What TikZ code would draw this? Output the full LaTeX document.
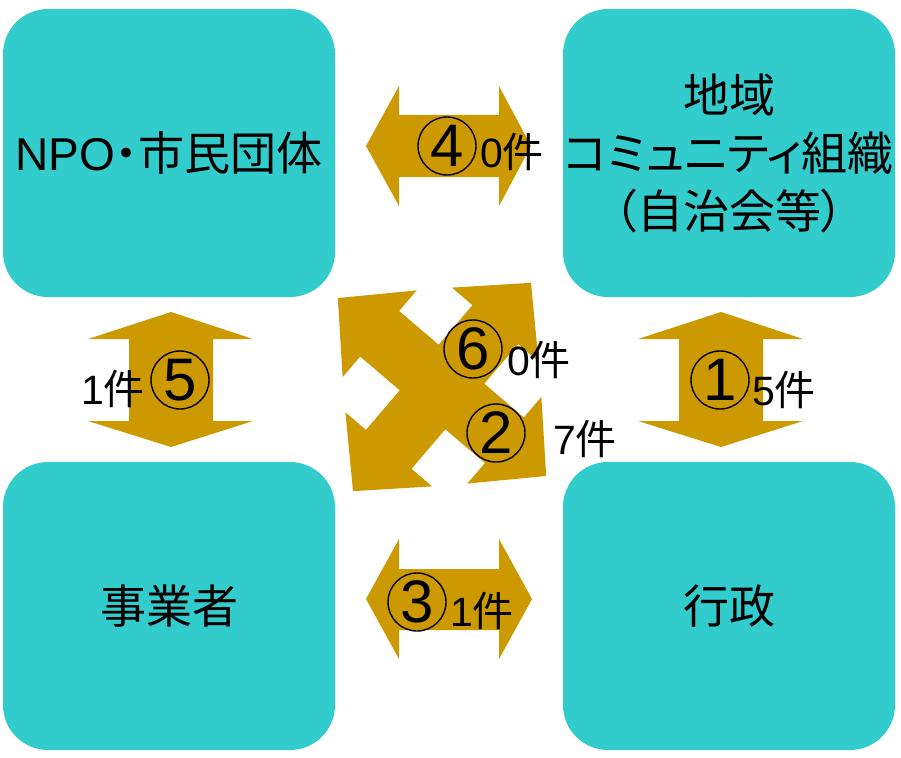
\documentclass[tikz,border=0pt]{standalone}
\usepackage{fontspec}
\setmainfont{Liberation Sans}
\newfontfamily\jp{Noto Sans CJK JP}[RawFeature=+palt]
\definecolor{boxteal}{HTML}{33CCCC}
\definecolor{arrgold}{HTML}{CC9900}
\usetikzlibrary{positioning}

\begin{document}
\begin{tikzpicture}[
		x=1pt, y=-1pt,
		box/.style = {fill=boxteal, rounded corners=45pt, minimum width=332pt, minimum height=288pt, align=center, inner sep=0pt, font=\jp\fontsize{46}{58}\selectfont},
		arr/.style = {fill=arrgold},
		num/.style = {draw, circle, line width=1.4pt, minimum size=58pt, inner sep=0pt, font=\fontsize{60}{60}\selectfont},
		cnt/.style = {inner sep=0pt, font=\fontsize{41}{44}\selectfont}
	]
	\useasboundingbox (0,0) rectangle (901,757);
	% the four groups
	\node[box] (npo) at (169,153) {{\rmfamily NPO}・市民団体};
	\node[box] (comm) at (729,153) {地域\\ コミュニティ組織\\ （自治会等）};
	\node[box] (biz) at (169,606) {事業者};
	\node[box] (gov) at (729,606) {行政};
	% block arrows between them
	\fill[arr] (366,146) -- (399,86) -- (399,115) -- (499,115) -- (499,86) -- (531,146) -- (499,206) -- (499,177) -- (399,177) -- (399,206) -- cycle;
	\fill[arr] (366,599) -- (399,539) -- (399,569) -- (499,569) -- (499,539) -- (532,599) -- (499,659) -- (499,630) -- (399,630) -- (399,659) -- cycle;
	\fill[arr] (171,312) -- (253,339) -- (213,339) -- (213,421) -- (253,421) -- (171,447) -- (88,421) -- (129,421) -- (129,339) -- (88,339) -- cycle;
	\fill[arr] (721,312) -- (803,339) -- (763,339) -- (763,421) -- (803,421) -- (721,447) -- (638,421) -- (679,421) -- (679,339) -- (638,339) -- cycle;
	% crossing arrows in the middle
	\begin{scope}[shift={(442,387)}, rotate=-40.5]
		\fill[arr] (30,-30) \foreach \a in {0,90,180,270} {
			-- ([rotate=-\a]82,-30) -- ([rotate=-\a]82,-57) -- ([rotate=-\a]137,0)
			-- ([rotate=-\a]82,57) -- ([rotate=-\a]82,30) -- ([rotate=-\a]30,30)} -- cycle;
	\end{scope}
	% numbers and counts
	\node[num] (n4) at (447,146) {4};
	\node[cnt] (c4) at (512,152) {0{\jp 件}};
	\node[num] (n6) at (473,349) {6};
	\node[cnt] (c6) at (539,360) {0{\jp 件}};
	\node[num] (n2) at (496,433) {2};
	\node[cnt] (c2) at (585,439) {7{\jp 件}};
	\node[num] (n1) at (720,380) {1};
	\node[cnt] (c1) at (784,390) {5{\jp 件}};
	\node[num] (n5) at (180,380) {5};
	\node[cnt] (c5) at (113,389) {1{\jp 件}};
	\node[num] (n3) at (417,602) {3};
	\node[cnt] (c3) at (482,611) {1{\jp 件}};
\end{tikzpicture}
\end{document}
